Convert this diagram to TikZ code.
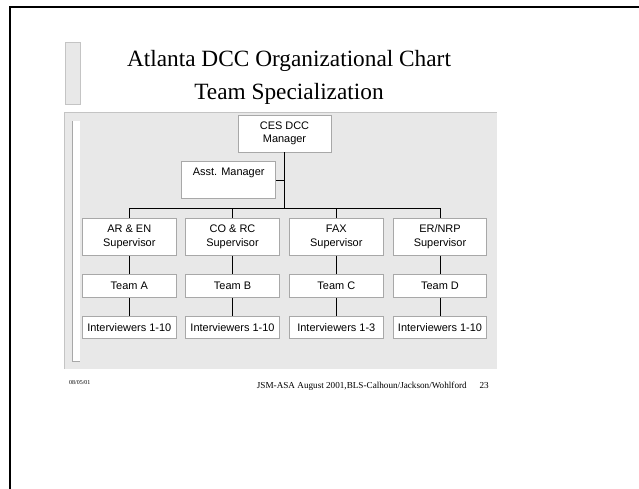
\documentclass[tikz,border=0pt]{standalone}
\usepackage{fontspec}
\setmainfont{Liberation Serif}
\newfontfamily\arialf{Liberation Sans}
\definecolor{panelgray}{HTML}{E8E8E8}
\definecolor{edgegray}{HTML}{C4C4C4}
\definecolor{boxedge}{HTML}{A8A8A8}
\begin{document}
\begin{tikzpicture}[x=1bp,y=-1bp,
  orgbox/.style={draw=boxedge,line width=0.9bp,fill=white,inner sep=0pt,
    minimum width=93.5bp,align=center,
    font=\arialf\fontsize{11}{13.5}\selectfont},
  supbox/.style={orgbox,minimum height=37bp},
  teambox/.style={orgbox,minimum height=23bp},
  intbox/.style={orgbox,minimum height=22.5bp},
  conn/.style={draw=black,line width=0.8bp}]
\useasboundingbox (0,0) rectangle (639,489);
% frame
\draw[line width=2bp] (9.5,489) -- (9.5,7) -- (639,7);
% title side bar
\filldraw[fill=panelgray,draw=edgegray,line width=0.8bp] (65,42) rectangle (80,104);
% panel
\fill[panelgray] (64,112.5) rectangle (497,369);
\draw[edgegray,line width=0.8bp] (64,369) -- (64,112.5) -- (497,112.5);
% white strip
\fill[white] (72.5,121.5) rectangle (80,361);
\draw[boxedge,line width=0.8bp] (72.8,121.5) -- (72.8,361) -- (80,361);
% title
\node[anchor=base,font=\fontsize{23.4}{28}\selectfont] (t1) at (289,66.7) {Atlanta DCC Organizational Chart};
\node[anchor=base,font=\fontsize{23.4}{28}\selectfont] (t2) at (289,99.3) {Team Specialization};
% boxes
\node[orgbox,minimum width=93bp,minimum height=37bp] (ces) at (284.5,133.5) {CES DCC\\Manager};
\node[orgbox,minimum width=94bp,minimum height=36.5bp] (asst) at (228.7,180) {Asst. Manager\\\strut};
\node[supbox] (s1) at (129.3,236.7) {AR \& EN\\Supervisor};
\node[supbox] (s2) at (232.5,236.7) {CO \& RC\\Supervisor};
\node[supbox] (s3) at (336.3,236.7) {FAX\\Supervisor};
\node[supbox] (s4) at (440,236.7) {ER/NRP\\Supervisor};
\node[teambox] (a1) at (129.3,285.8) {Team A};
\node[teambox] (a2) at (232.5,285.8) {Team B};
\node[teambox] (a3) at (336.3,285.8) {Team C};
\node[teambox] (a4) at (440,285.8) {Team D};
\node[intbox] (i1) at (129.3,327.5) {Interviewers 1-10};
\node[intbox] (i2) at (232.5,327.5) {Interviewers 1-10};
\node[intbox] (i3) at (336.3,327.5) {Interviewers 1-3};
\node[intbox] (i4) at (440,327.5) {Interviewers 1-10};
% connectors
\coordinate (bus) at (284.5,208);
\draw[conn] (ces.south) -- (ces.south |- bus);
\draw[conn] (asst.east) -- (asst.east -| ces.south);
\draw[conn] (s1.north) -- (s1.north |- bus) -- (s4.north |- bus) -- (s4.north);
\draw[conn] (s2.north) -- (s2.north |- bus);
\draw[conn] (s3.north) -- (s3.north |- bus);
\foreach \k in {1,2,3,4}{
  \draw[conn] (s\k.south) -- (a\k.north);
  \draw[conn] (a\k.south) -- (i\k.north);
}
% footer
\node[anchor=base west,inner sep=0pt,font=\fontsize{6}{7}\selectfont] (date) at (69,384) {08/05/01};
\node[anchor=base west,inner sep=0pt,font=\fontsize{9.2}{11}\selectfont] (foot) at (256.7,388.5) {JSM-ASA August 2001,BLS-Calhoun/Jackson/Wohlford};
\node[anchor=base west,inner sep=0pt,font=\fontsize{9.2}{11}\selectfont] (pg) at (479.3,388.5) {23};
\end{tikzpicture}
\end{document}
